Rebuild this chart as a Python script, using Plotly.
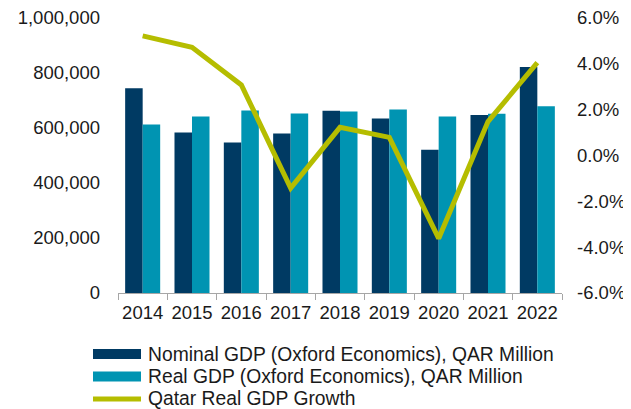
import plotly.graph_objects as go

years = ["2014", "2015", "2016", "2017", "2018", "2019", "2020", "2021", "2022"]
nominal_gdp = [744500, 584000, 547000, 580000, 663000, 635000, 521000, 647000, 822000]
real_gdp = [613000, 642000, 664000, 653000, 660000, 667000, 642000, 652000, 679000]
real_growth = [5.22, 4.72, 3.08, -1.42, 1.23, 0.79, -3.62, 1.48, 4.05]

left_ticks = [0, 200000, 400000, 600000, 800000, 1000000]
left_labels = ["0", "200,000", "400,000", "600,000", "800,000", "1,000,000"]
right_ticks = [-6, -4, -2, 0, 2, 4, 6]
right_labels = ["-6.0%", "-4.0%", "-2.0%", "0.0%", "2.0%", "4.0%", "6.0%"]

series_names = ["Nominal GDP (Oxford Economics), QAR Million",
                "Real GDP (Oxford Economics), QAR Million",
                "Qatar Real GDP Growth"]
colors = ["#003A63", "#0094B2", "#B5BD00"]

FONT = "Liberation Sans, Arial, sans-serif"

# page body has an 8px margin, so the figure is 8px smaller than the window
W, H = 623, 401
ML, MT, MR, MB = 110, 10, 69, 116
PW = W - ML - MR
PH = H - MT - MB


def px_x(x):  # window pixel -> paper fraction
    return (x - 8 - ML) / PW


def px_y(y):
    return (H - MB - (y - 8)) / PH


fig = go.Figure()
fig.add_trace(go.Bar(x=years, y=nominal_gdp, name=series_names[0],
                     marker=dict(color=colors[0], line=dict(width=0))))
fig.add_trace(go.Bar(x=years, y=real_gdp, name=series_names[1],
                     marker=dict(color=colors[1], line=dict(width=0))))
fig.add_trace(go.Scatter(x=years, y=real_growth, name=series_names[2], yaxis="y2",
                         mode="lines", line=dict(color=colors[2], width=5)))

# custom legend (wide swatches as in the reference)
rows = [354, 376.5, 398]
shapes = [
    dict(type="rect", xref="paper", yref="paper", x0=px_x(93), x1=px_x(141),
         y0=px_y(rows[0] - 5), y1=px_y(rows[0] + 5), fillcolor=colors[0], line=dict(width=0)),
    dict(type="rect", xref="paper", yref="paper", x0=px_x(93), x1=px_x(141),
         y0=px_y(rows[1] - 5), y1=px_y(rows[1] + 5), fillcolor=colors[1], line=dict(width=0)),
    dict(type="line", xref="paper", yref="paper", x0=px_x(93), x1=px_x(141),
         y0=px_y(rows[2] + 1), y1=px_y(rows[2] + 1), line=dict(color=colors[2], width=5)),
]
annotations = [
    dict(xref="paper", yref="paper", x=px_x(146), y=px_y(yc), text=name, showarrow=False,
         xanchor="left", yanchor="middle", font=dict(size=19.3, color="#1a1a1a"))
    for name, yc in zip(series_names, rows)
]

fig.update_layout(
    width=W, height=H,
    margin=dict(l=ML, r=MR, t=MT, b=MB, autoexpand=False),
    paper_bgcolor="white", plot_bgcolor="white",
    font=dict(family=FONT, size=18.5, color="#1a1a1a"),
    barmode="group", bargap=0.29, bargroupgap=0,
    showlegend=False,
    shapes=shapes, annotations=annotations,
    xaxis=dict(type="category", showgrid=False, showline=True, linecolor="#A6A6A6", linewidth=1,
               ticks="outside", tickson="boundaries", ticklen=6, tickcolor="#A6A6A6",
               tickangle=0, automargin=False, ticklabelstandoff=3, tickfont=dict(size=18.5)),
    yaxis=dict(range=[0, 1000000], tickvals=left_ticks, ticktext=left_labels, showgrid=False,
               showline=False, zeroline=False, ticks="", ticklabelstandoff=17,
               ticklabeloverflow="allow", automargin=False, tickfont=dict(size=18.5)),
    yaxis2=dict(overlaying="y", side="right", range=[-6, 6], tickvals=right_ticks,
                ticktext=right_labels, showgrid=False, showline=False, zeroline=False, ticks="",
                ticklabelstandoff=14, ticklabeloverflow="allow", automargin=False,
                tickfont=dict(size=18.5)),
)

fig.write_html("out.html")
